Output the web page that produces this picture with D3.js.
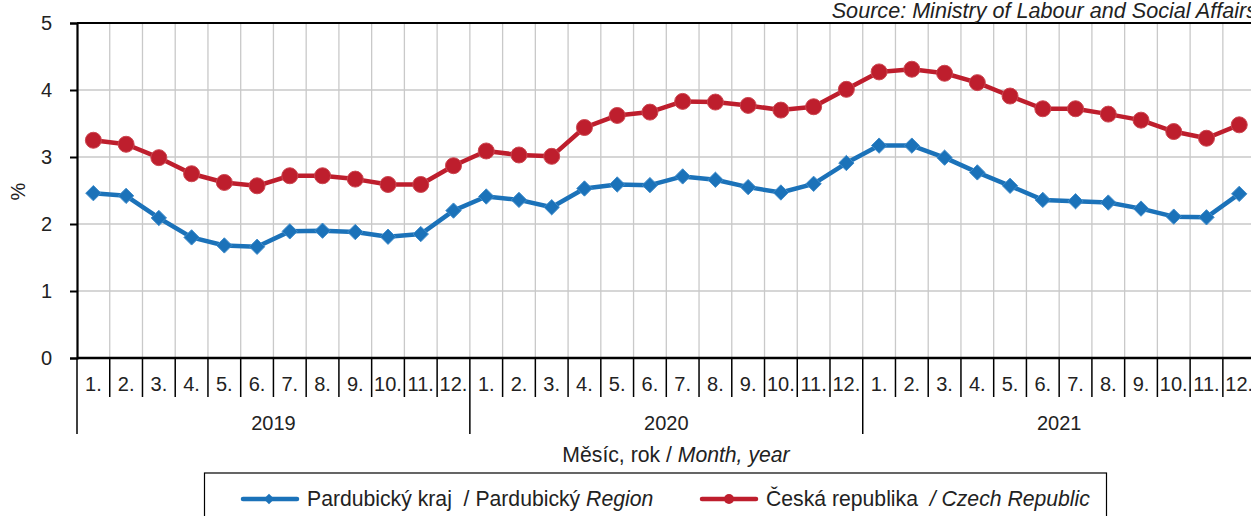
<!DOCTYPE html>
<html>
<head>
<meta charset="utf-8">
<script src="https://cdn.jsdelivr.net/npm/d3@7"></script>
<style>
  body { margin: 0; background: #fff; }
  svg { font-family: "Liberation Sans", Arial, sans-serif; }
  text { white-space: pre; }
</style>
</head>
<body>
<script>
// data
const years = ["2019", "2020", "2021"];
const months = ["1.", "2.", "3.", "4.", "5.", "6.", "7.", "8.", "9.", "10.", "11.", "12."];
const yTicks = [0, 1, 2, 3, 4, 5];

const pardubice = [
  2.46, 2.42, 2.09, 1.80, 1.68, 1.66, 1.89, 1.90, 1.88, 1.81, 1.85, 2.20,
  2.41, 2.36, 2.25, 2.53, 2.59, 2.58, 2.71, 2.66, 2.55, 2.47, 2.60, 2.91,
  3.17, 3.17, 2.99, 2.77, 2.57, 2.36, 2.34, 2.32, 2.23, 2.11, 2.10, 2.45
];
const czech = [
  3.25, 3.19, 2.99, 2.75, 2.62, 2.57, 2.72, 2.72, 2.67, 2.59, 2.59, 2.87,
  3.09, 3.03, 3.01, 3.44, 3.62, 3.67, 3.83, 3.82, 3.77, 3.70, 3.75, 4.01,
  4.27, 4.31, 4.25, 4.11, 3.91, 3.72, 3.72, 3.64, 3.55, 3.38, 3.28, 3.48
];

const W = 1251, H = 516;
const pLeft = 77, pRight = 1255.6, pTop = 23, pBottom = 358;
const blue = "#1b72b9", red = "#be1e2d";
const ink = "#222";

const keys = [];
years.forEach(y => months.forEach(m => keys.push(y + "-" + m)));

const x = d3.scaleBand().domain(keys).range([pLeft, pRight]).padding(0);
const y = d3.scaleLinear().domain([0, 5]).range([pBottom, pTop]);

const svg = d3.select("body").append("svg")
  .attr("width", W).attr("height", H);

// grid
svg.append("g").selectAll("line")
  .data(keys.slice(1))
  .join("line")
    .attr("x1", d => x(d)).attr("x2", d => x(d))
    .attr("y1", pTop).attr("y2", pBottom)
    .attr("stroke", "#c9c9c9").attr("stroke-width", 1.3);

svg.append("g").selectAll("line")
  .data(yTicks.slice(1, -1))
  .join("line")
    .attr("x1", pLeft).attr("x2", pRight)
    .attr("y1", d => y(d)).attr("y2", d => y(d))
    .attr("stroke", "#c9c9c9").attr("stroke-width", 1.3);

// top border
svg.append("line")
  .attr("x1", pLeft).attr("x2", pRight)
  .attr("y1", pTop).attr("y2", pTop)
  .attr("stroke", "#000").attr("stroke-width", 2);

// y axis
const yAxis = svg.append("g")
  .attr("transform", `translate(${pLeft},0)`)
  .call(d3.axisLeft(y).tickValues(yTicks).tickFormat(d3.format("d")).tickSize(7).tickPadding(18));
yAxis.select(".domain").attr("stroke-width", 2.2);
yAxis.selectAll(".tick line").attr("stroke-width", 2);
yAxis.selectAll("text").attr("font-size", 20).attr("fill", ink)
  .attr("font-family", "Liberation Sans, Arial, sans-serif");

svg.append("text")
  .attr("transform", `translate(25,${(pTop + pBottom) / 2 + 1}) rotate(-90)`)
  .attr("text-anchor", "middle")
  .attr("font-size", 20).attr("fill", ink)
  .text("%");

// x axis: months
const xAxis = svg.append("g")
  .attr("transform", `translate(0,${pBottom})`)
  .call(d3.axisBottom(x).tickSize(0).tickPadding(0).tickFormat(d => d.split("-")[1]));
xAxis.select(".domain").remove();
xAxis.selectAll("text").attr("font-size", 20).attr("fill", ink)
  .attr("dy", null).attr("y", 33)
  .attr("font-family", "Liberation Sans, Arial, sans-serif");

svg.append("line")
  .attr("x1", pLeft).attr("x2", pRight)
  .attr("y1", pBottom).attr("y2", pBottom)
  .attr("stroke", "#000").attr("stroke-width", 2.5);

// month separators
svg.append("g").selectAll("line")
  .data(keys.slice(1).filter(k => !k.endsWith("-1.")))
  .join("line")
    .attr("x1", d => x(d)).attr("x2", d => x(d))
    .attr("y1", pBottom).attr("y2", 397)
    .attr("stroke", "#000").attr("stroke-width", 1.5);

// year separators
svg.append("g").selectAll("line")
  .data(years.map(yr => yr + "-1.").concat(["end"]))
  .join("line")
    .attr("x1", d => d === "end" ? pRight : x(d))
    .attr("x2", d => d === "end" ? pRight : x(d))
    .attr("y1", pBottom).attr("y2", 434)
    .attr("stroke", "#000").attr("stroke-width", 1.5);

svg.append("g").selectAll("text")
  .data(years)
  .join("text")
    .attr("x", d => (x(d + "-1.") + x(d + "-12.") + x.bandwidth()) / 2)
    .attr("y", 430)
    .attr("text-anchor", "middle")
    .attr("font-size", 20).attr("fill", ink)
    .text(d => d);

// axis title
const xt = svg.append("text")
  .attr("x", 676).attr("y", 462)
  .attr("text-anchor", "middle")
  .attr("font-size", 21.2).attr("fill", ink);
xt.append("tspan").text("Měsíc, rok / ");
xt.append("tspan").attr("font-style", "italic").text("Month, year");

// source
svg.append("text")
  .attr("x", 1257).attr("y", 18)
  .attr("text-anchor", "end")
  .attr("font-size", 21.6).attr("font-style", "italic").attr("fill", ink)
  .text("Source: Ministry of Labour and Social Affairs");

// lines
const cx = i => x(keys[i]) + x.bandwidth() / 2;
const line = d3.line().x((d, i) => cx(i)).y(d => y(d));

svg.append("path").datum(czech)
  .attr("d", line).attr("fill", "none")
  .attr("stroke", red).attr("stroke-width", 4.5).attr("stroke-linejoin", "round");
svg.append("path").datum(pardubice)
  .attr("d", line).attr("fill", "none")
  .attr("stroke", blue).attr("stroke-width", 4.5).attr("stroke-linejoin", "round");

svg.append("g").selectAll("circle")
  .data(czech)
  .join("circle")
    .attr("cx", (d, i) => cx(i)).attr("cy", d => y(d))
    .attr("r", 8)
    .attr("fill", red).attr("stroke", "#cc4650").attr("stroke-width", 1);

const diamond = d3.symbol().type(d3.symbolDiamond2).size(150);
svg.append("g").selectAll("path")
  .data(pardubice)
  .join("path")
    .attr("d", diamond)
    .attr("transform", (d, i) => `translate(${cx(i)},${y(d)})`)
    .attr("fill", blue).attr("stroke", "#3f8ccb").attr("stroke-width", 1);

// legend
const lg = svg.append("g");
lg.append("rect")
  .attr("x", 204.5).attr("y", 473).attr("width", 902).attr("height", 60)
  .attr("fill", "#fff").attr("stroke", "#000").attr("stroke-width", 1.2);

lg.append("line").attr("x1", 243).attr("x2", 297).attr("y1", 499).attr("y2", 499)
  .attr("stroke", blue).attr("stroke-width", 4.5).attr("stroke-linecap", "round");
lg.append("path").attr("d", d3.symbol().type(d3.symbolDiamond2).size(70))
  .attr("transform", "translate(269,499)").attr("fill", blue);
const t1 = lg.append("text").attr("x", 307).attr("y", 506)
  .attr("font-size", 21.2).attr("fill", ink);
t1.append("tspan").text("Pardubický kraj  / Pardubický ");
t1.append("tspan").attr("font-style", "italic").text("Region");

lg.append("line").attr("x1", 702).attr("x2", 756).attr("y1", 499).attr("y2", 499)
  .attr("stroke", red).attr("stroke-width", 4.5).attr("stroke-linecap", "round");
lg.append("circle").attr("cx", 729).attr("cy", 499).attr("r", 5).attr("fill", red);
const t2 = lg.append("text").attr("x", 766).attr("y", 506)
  .attr("font-size", 21.2).attr("fill", ink);
t2.append("tspan").text("Česká republika  ");
t2.append("tspan").attr("font-style", "italic").text("/ Czech Republic");
</script>
</body>
</html>
